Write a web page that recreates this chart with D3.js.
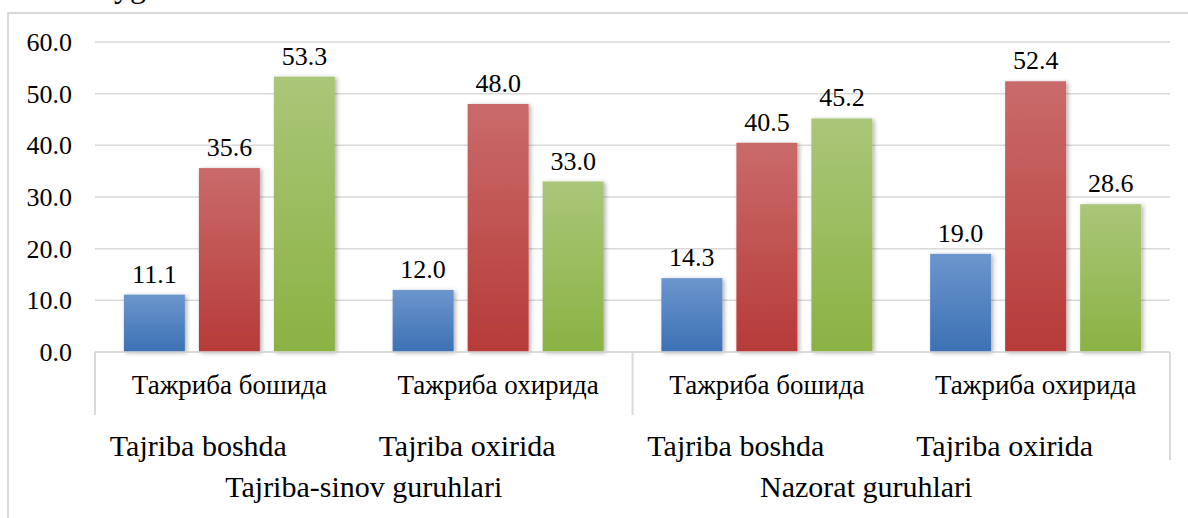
<!DOCTYPE html>
<html>
<head>
<meta charset="utf-8">
<script src="https://cdn.jsdelivr.net/npm/d3@7"></script>
</head>
<body style="margin:0">
<svg id="chart" width="1188" height="518"></svg>
<script>
/*Chart data*/
var categories = ["Тажриба бошида", "Тажриба охирида", "Тажриба бошида", "Тажриба охирида"];
var subLabels = ["Tajriba boshda", "Tajriba oxirida", "Tajriba boshda", "Tajriba oxirida"];
var groupLabels = ["Tajriba-sinov guruhlari", "Nazorat guruhlari"];
var seriesNames = ["s1", "s2", "s3"];
var series1 = [11.1, 12.0, 14.3, 19.0];
var series2 = [35.6, 48.0, 40.5, 52.4];
var series3 = [53.3, 33.0, 45.2, 28.6];
var yTicks = [0, 10, 20, 30, 40, 50, 60];

var seriesValues = [series1, series2, series3];
var gradients = [
  ["#6c96cd", "#3c71b4"],
  ["#c96b6a", "#b73a39"],
  ["#aac679", "#8bb243"]
];

var svg = d3.select("#chart");
var plotLeft = 95, plotRight = 1170, plotTop = 42, plotBottom = 352;

var defs = svg.append("defs");
gradients.forEach(function(g, i){
  var lg = defs.append("linearGradient")
    .attr("id", "grad" + i)
    .attr("x1", 0).attr("y1", 0).attr("x2", 0).attr("y2", 1);
  lg.append("stop").attr("offset", "0%").attr("stop-color", g[0]);
  lg.append("stop").attr("offset", "100%").attr("stop-color", g[1]);
});
var shadow = defs.append("filter").attr("id", "shadow")
  .attr("x", "-20%").attr("y", "-10%").attr("width", "150%").attr("height", "130%");
shadow.append("feDropShadow")
  .attr("dx", 2).attr("dy", 1).attr("stdDeviation", 2)
  .attr("flood-color", "#000").attr("flood-opacity", 0.3);

//Puts text in the serif face used by the chart
function setFont(sel, size){
  return sel
    .attr("font-family", "Liberation Serif")
    .style("font-family", function(){ return "'Liberation Serif'"; })
    .style("font-size", function(){ return size + "px"; });
}

//Cut-off title fragment at the very top
setFont(svg.append("text").attr("x", 114).attr("y", -3), 32).text("yg");

//Chart border
svg.append("path")
  .attr("d", "M8,518 L8,13 L1188,13")
  .attr("fill", "none")
  .attr("stroke", "#d9d9d9")
  .attr("stroke-width", 2);

/*Scales*/
var y = d3.scaleLinear().domain([0, 60]).range([plotBottom, plotTop]);
var x0 = d3.scaleBand().domain(d3.range(categories.length)).range([plotLeft, plotRight]);
var x1 = d3.scaleBand().domain(seriesNames)
  .range([0, x0.bandwidth()])
  .paddingInner(0.187)
  .paddingOuter(0.385);

//Gridlines
svg.append("g").selectAll("line")
  .data(yTicks)
  .enter().append("line")
  .attr("x1", plotLeft).attr("x2", plotRight)
  .attr("y1", function(d){ return y(d); })
  .attr("y2", function(d){ return y(d); })
  .attr("stroke", "#d9d9d9")
  .attr("stroke-width", 1.5);

//Y tick labels
var yLabels = svg.append("g").selectAll("text")
  .data(yTicks)
  .enter().append("text")
  .attr("x", 72)
  .attr("y", function(d){ return y(d); })
  .attr("dy", "0.35em")
  .attr("text-anchor", "end")
  .text(function(d){ return d.toFixed(1); });
setFont(yLabels, 26);

/*Bars*/
seriesNames.forEach(function(s, si){
  var vals = seriesValues[si];
  svg.append("g").selectAll("rect")
    .data(vals)
    .enter().append("rect")
    .attr("x", function(d, ci){ return x0(ci) + x1(s); })
    .attr("y", function(d){ return y(d); })
    .attr("width", x1.bandwidth())
    .attr("height", function(d){ return y(0) - y(d); })
    .attr("fill", "url(#grad" + si + ")")
    .attr("filter", "url(#shadow)");

  var labels = svg.append("g").selectAll("text")
    .data(vals)
    .enter().append("text")
    .attr("x", function(d, ci){ return x0(ci) + x1(s) + x1.bandwidth() / 2; })
    .attr("y", function(d){ return y(d) - 12; })
    .attr("text-anchor", "middle")
    .text(function(d){ return d.toFixed(1); });
  setFont(labels, 26);
});

/*Category axis*/
var axisG = svg.append("g");
axisG.append("line")
  .attr("x1", plotLeft).attr("x2", plotRight)
  .attr("y1", plotBottom).attr("y2", plotBottom)
  .attr("stroke", "#d9d9d9").attr("stroke-width", 1.5);

//Dividers between the outer groups
var dividers = [0, 2, 4];
axisG.selectAll("line.div")
  .data(dividers)
  .enter().append("line")
  .attr("class", "div")
  .attr("x1", function(d){ return d < 4 ? x0(d) : plotRight; })
  .attr("x2", function(d){ return d < 4 ? x0(d) : plotRight; })
  .attr("y1", plotBottom)
  .attr("y2", function(d){ return d < 4 ? 415 : 460; })
  .attr("stroke", "#d9d9d9").attr("stroke-width", 2);

var catText = axisG.selectAll("text.cat")
  .data(categories)
  .enter().append("text")
  .attr("class", "cat")
  .attr("x", function(d, i){ return x0(i) + x0.bandwidth() / 2; })
  .attr("y", 385)
  .attr("dy", "0.35em")
  .attr("text-anchor", "middle")
  .text(function(d){ return d; });
setFont(catText, 27);

var subText = axisG.selectAll("text.sub")
  .data(subLabels)
  .enter().append("text")
  .attr("class", "sub")
  .attr("x", function(d, i){ return x0(i) + x0.bandwidth() / 2 - 31; })
  .attr("y", 445)
  .attr("dy", "0.35em")
  .attr("text-anchor", "middle")
  .text(function(d){ return d; });
setFont(subText, 30);

var grpText = axisG.selectAll("text.grp")
  .data(groupLabels)
  .enter().append("text")
  .attr("class", "grp")
  .attr("x", function(d, i){
    var a = x0(i * 2), b = i * 2 + 2 < 4 ? x0(i * 2 + 2) : plotRight;
    return (a + b) / 2 - (i === 0 ? 0 : 35);
  })
  .attr("y", 486)
  .attr("dy", "0.35em")
  .attr("text-anchor", "middle")
  .text(function(d){ return d; });
setFont(grpText, 30);
</script>
</body>
</html>
